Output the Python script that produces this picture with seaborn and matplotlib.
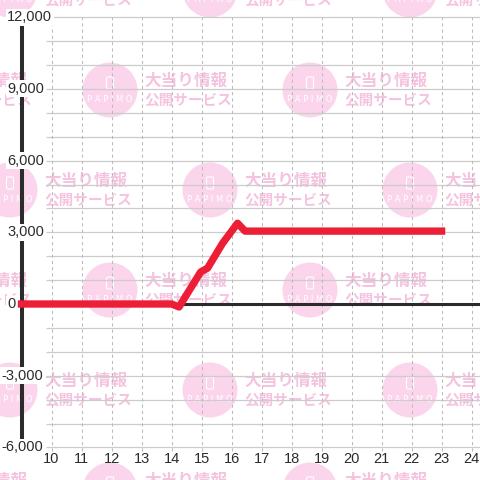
import matplotlib.pyplot as plt
import matplotlib.patches as mpatches
import seaborn as sns
import pandas as pd

# data
hours = [9, 14, 14.25, 14.97, 15.2, 15.7, 16.2, 16.45, 23]
balance = [0, 0, -125, 1340, 1500, 2540, 3380, 3050, 3050]
y_ticks = [-6000, -3000, 0, 3000, 6000, 9000, 12000]
y_labels = ['-6,000', '-3,000', '0', '3,000', '6,000', '9,000', '12,000']
x_ticks = list(range(10, 25))
grid_levels = list(range(-6000, 12001, 1000))

wm_line1 = '大当り情報'
wm_line2 = '公開サービス'
wm_brand = 'P A P I M O'

sns.set_theme(style="white")
plt.rcParams['font.family'] = ['Liberation Sans', 'Noto Sans CJK JP', 'DejaVu Sans']

red = '#ec1f36'
dark = '#2b2b2b'
pink_circle = '#fbd5ec'
pink_text = '#f5c3e0'

fig = plt.figure(figsize=(4.8, 4.8), dpi=100)

# watermark layer in pixel coordinates
bg = fig.add_axes([0, 0, 1, 1])
bg.set_xlim(0, 480)
bg.set_ylim(480, 0)
bg.set_axis_off()
for row, cy in enumerate(range(-10, 500, 100)):
    start = 10 if row % 2 == 0 else 110
    for cx in range(start - 200, 560, 200):
        bg.add_patch(mpatches.Circle((cx, cy), 27.5, color=pink_circle, lw=0))
        bg.add_patch(mpatches.FancyBboxPatch((cx - 3.5, cy - 13), 7, 12,
                                             boxstyle='round,pad=0,rounding_size=1.5',
                                             fill=False, edgecolor='white', lw=0.8))
        bg.text(cx, cy + 9.5, wm_brand, color='white', fontsize=6,
                family='DejaVu Sans', ha='center', va='center')
        bg.text(cx + 34, cy - 9, wm_line1, color=pink_text, fontsize=12,
                family='Noto Sans CJK JP', weight='bold', ha='left', va='center')
        bg.text(cx + 34, cy + 10, wm_line2, color=pink_text, fontsize=10.5,
                family='Noto Sans CJK JP', weight='bold', ha='left', va='center')

# chart layer
ax = fig.add_axes([0, 0, 1, 1])
ax.patch.set_alpha(0)
ax.set_axis_off()
ax.set_xlim(8.283, 24.28)
ax.set_ylim(-7364, 12720)

for lv in grid_levels:
    if lv != 0:
        ax.hlines(lv, 9.8, 24.3, color='#cccccc', lw=0.9, zorder=1)
ax.vlines(x_ticks, -6150, 12000, color='#bbbbbb', lw=0.75,
          linestyles=(0, (3, 3)), zorder=1)
ax.hlines(0, 9, 24.3, color=dark, lw=2.2, zorder=2)
ax.vlines(9, -6000, 12000, color=dark, lw=2.9, zorder=2)

df = pd.DataFrame({'hour': hours, 'balance': balance})
sns.lineplot(data=df, x='hour', y='balance', ax=ax, color=red, lw=5.3,
             solid_capstyle='projecting', solid_joinstyle='round', zorder=3)

# y labels (white boxes cut the axis line)
for v, lab in zip(y_ticks, y_labels):
    if v < 0:
        ax.text(9.72, v, lab, ha='right', va='center', fontsize=10.5, color=dark,
                bbox=dict(facecolor='white', edgecolor='none', pad=1), zorder=5)
    else:
        ax.text(8.52, v, lab, ha='left', va='center', fontsize=10.5, color=dark,
                bbox=dict(facecolor='white', edgecolor='none', pad=1), zorder=5)

for h in x_ticks:
    ax.text(h, -6485, str(h), ha='center', va='center', fontsize=10.5, color=dark)

fig.savefig('out.png', dpi=100)
